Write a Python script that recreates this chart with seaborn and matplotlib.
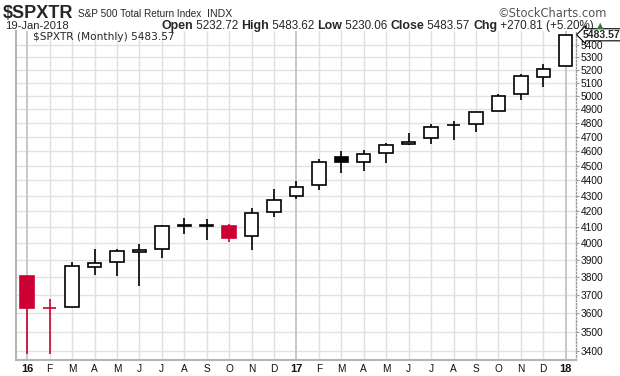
import numpy as np
import pandas as pd
import matplotlib
matplotlib.use("Agg")
import matplotlib.pyplot as plt
import matplotlib.ticker as mticker
import seaborn as sns

# ---- data (monthly OHLC, Jan 2016 .. Jan 2018) ----
months = ["16", "F", "M", "A", "M", "J", "J", "A", "S", "O", "N", "D",
          "17", "F", "M", "A", "M", "J", "J", "A", "S", "O", "N", "D", "18"]
opens  = [3808, 3628, 3632, 3859, 3888, 3947, 3966, 4112, 4110, 4108, 4044, 4193,
          4296, 4368, 4557, 4527, 4585, 4647, 4690, 4781, 4791, 4888, 5014, 5143, 5232.72]
highs  = [3808, 3678, 3890, 3967, 3967, 3997, 4111, 4155, 4149, 4122, 4219, 4343,
          4397, 4543, 4600, 4607, 4656, 4725, 4790, 4817, 4878, 5014, 5168, 5250, 5483.62]
lows   = [3386, 3386, 3632, 3816, 3810, 3753, 3915, 4056, 4020, 4011, 3959, 4166,
          4281, 4337, 4452, 4466, 4520, 4640, 4647, 4676, 4733, 4888, 4967, 5066, 5230.06]
closes = [3631, 3626, 3865, 3882, 3953, 3959, 4105, 4106, 4111, 4036, 4187, 4270,
          4355, 4523, 4527, 4578, 4640, 4665, 4768, 4784, 4878, 4997, 5150, 5206, 5483.57]
prev_close_dec15 = 3821
y_ticks = list(range(3400, 5401, 100))
last_close = 5483.57

df = pd.DataFrame({"label": months, "open": opens, "high": highs,
                   "low": lows, "close": closes})
df["x"] = np.arange(len(df))
df["prev"] = [prev_close_dec15] + closes[:-1]

RED = "#cc0033"
BLACK = "#000000"

sns.set_style("white")
plt.rcParams["font.family"] = ["Liberation Sans", "DejaVu Sans"]

fig = plt.figure(figsize=(6.2, 3.76), dpi=100)
W, H = 620, 376
L, R, T, B = 16, 576, 31, 360
ax = fig.add_axes([L / W, 1 - B / H, (R - L) / W, (B - T) / H])
ax.set_facecolor("white")

ax.set_yscale("log")
ax.set_xlim(-0.5, 24.46)
ax.set_ylim(3354, 5515)

# grid
for y in y_ticks:
    ax.axhline(y, color="#e2e2e2", lw=1.0, zorder=0)
for i, lab in enumerate(months):
    yr = lab.isdigit()
    ax.axvline(i, color="#c4c4c4" if yr else "#e0e0e0", lw=1.3 if yr else 1.0, zorder=0)

# candles
bw = 0.6
for _, r in df.iterrows():
    col = RED if r["close"] < r["prev"] else BLACK
    filled = r["close"] < r["open"]
    ax.vlines(r["x"], r["low"], r["high"], color=col, lw=1.2, zorder=2)
    lo = min(r["open"], r["close"])
    hi = max(r["open"], r["close"])
    ax.bar(r["x"], hi - lo, bottom=lo, width=bw,
           color=col if filled else "white", edgecolor=col, linewidth=1.2, zorder=3)

# axes styling
ax.yaxis.tick_right()
ax.yaxis.set_major_locator(mticker.FixedLocator(y_ticks))
ax.yaxis.set_minor_locator(mticker.NullLocator())
ax.yaxis.set_major_formatter(mticker.FixedFormatter([str(v) for v in y_ticks]))
ax.tick_params(axis="y", which="major", length=2, width=0.8, color="#999999",
               labelsize=7.3, pad=1.5, labelcolor="#111111")
ax.set_xticks(df["x"])
ax.set_xticklabels(months)
ax.tick_params(axis="x", length=0, labelsize=7.3, pad=3, labelcolor="#111111")
for t, lab in zip(ax.get_xticklabels(), months):
    if lab.isdigit():
        t.set_fontweight("bold")
        t.set_fontsize(8)

ax.spines["top"].set_visible(False)
ax.spines["left"].set_color("#b5b5b5")
ax.spines["left"].set_linewidth(1.5)
ax.spines["bottom"].set_color("#b5b5b5")
ax.spines["bottom"].set_linewidth(1.5)
ax.spines["right"].set_color("#999999")
ax.spines["right"].set_linestyle((0, (1, 1.5)))
ax.spines["right"].set_linewidth(1.0)

fig.canvas.draw()
renderer = fig.canvas.get_renderer()


def fit_text(x, y, s, target_w, fs, **kw):
    """Place text at pixel (x, baseline y) and scale its font to a pixel width."""
    t = fig.text(x / W, 1 - y / H, s, fontsize=fs, va="baseline", **kw)
    w = t.get_window_extent(renderer=renderer).width
    t.set_fontsize(fs * target_w / w)
    return t


# last price tag
ax.annotate(f"{last_close:.2f}", xy=(1.0, last_close), xycoords=("axes fraction", "data"),
            xytext=(5, 0), textcoords="offset points", va="center", ha="left",
            fontsize=7.5, fontweight="bold",
            bbox=dict(boxstyle="larrow,pad=0.1", fc="white", ec="black", lw=0.8),
            annotation_clip=False, zorder=10)

# in-chart legend
fit_text(33, 39.5, "$SPXTR (Monthly) 5483.57", 140, 7.5, ha="left",
         family=["DejaVu Sans"], zorder=10)

# header
fit_text(3, 18, "$SPXTR", 70, 12, fontweight="bold", ha="left")
fit_text(78, 17, "S&P 500 Total Return Index", 123, 7.5, ha="left")
fit_text(207, 17, "INDX", 25, 6.5, ha="left")
fit_text(497, 17, "\u00a9StockCharts.com", 110, 7.5, ha="left", color="#555555",
         family=["DejaVu Sans"])
fit_text(5, 29, "19-Jan-2018", 64, 8, ha="left")

parts = [("Open", True), (" 5232.72 ", False), ("High", True), (" 5483.62 ", False),
         ("Low", True), (" 5230.06 ", False), ("Close", True), (" 5483.57 ", False),
         ("Chg", True), (" +270.81 (+5.20%)", False)]
target_start, target_end = 161, 591
scale = 1.0
for _ in range(2):
    x0 = target_start
    made = []
    for txt, bold in parts:
        t = fig.text(x0 / W, 1 - 29 / H, txt, fontsize=(8.0 if bold else 7.5) * scale,
                     fontweight="bold" if bold else "normal", va="baseline", ha="left")
        x0 += t.get_window_extent(renderer=renderer).width
        made.append(t)
    total = x0 - target_start
    if _ == 0:
        for t in made:
            t.remove()
        scale = (target_end - target_start) / total
fig.text(597 / W, 1 - 28 / H, "\u25b2", fontsize=6, color="#2e7d32", va="baseline",
         ha="left", family=["DejaVu Sans"])

fig.savefig("out.png", dpi=100)
